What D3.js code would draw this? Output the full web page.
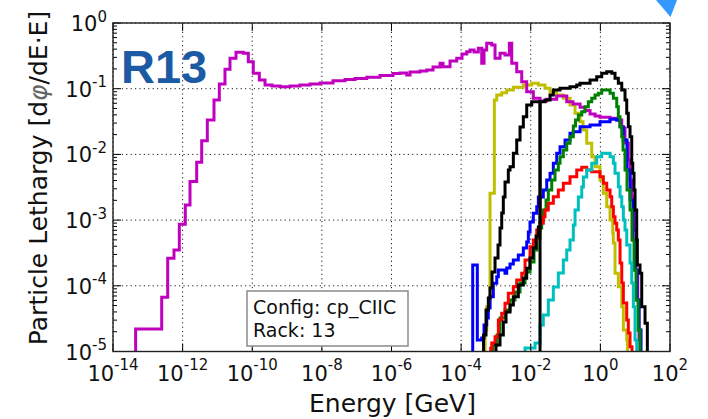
<!DOCTYPE html>
<html><head><meta charset="utf-8">
<script src="https://cdn.jsdelivr.net/npm/d3@7"></script>
<style>html,body{margin:0;padding:0;background:#fff}svg{display:block}</style>
</head><body>
<svg id="chart" width="708" height="419"></svg>
<script>
// ---- data: [log10(Energy/GeV), log10(lethargy)] ; -8 = empty bin ----
const xTickExps = [-14,-12,-10,-8,-6,-4,-2,0,2];
const yTickExps = [-5,-4,-3,-2,-1,0];
const boxLines = ["Config: cp_CIIC","Rack: 13"];
const panelLabel = "R13";

const magenta = [[-13.35,-8],[-13.35,-4.658],[-12.601,-4.175],[-12.429,-3.581],[-12.248,-3.455],[-12.095,-3.064],[-11.923,-2.770],[-11.788,-2.413],[-11.596,-2.120],[-11.452,-1.791],[-11.291,-1.476],[-11.099,-1.172],[-10.946,-0.928],[-10.783,-0.705],[-10.639,-0.537],[-10.467,-0.446],[-10.257,-0.461],[-10.113,-0.589],[-9.970,-0.766],[-9.797,-0.868],[-9.633,-0.944],
[-9.432,-0.959],[-9.203,-0.970],[-8.915,-0.959],[-8.628,-0.944],[-8.341,-0.928],[-8.053,-0.913],[-7.680,-0.878],[-7.335,-0.860],[-7.048,-0.845],[-6.712,-0.826],[-6.330,-0.799],[-5.956,-0.769],[-5.755,-0.761],[-5.563,-0.791],[-5.468,-0.746],[-5.181,-0.731],[-4.988,-0.715],[-4.807,-0.670],[-4.606,-0.613],[-4.520,-0.665],[-4.319,-0.578],[-4.126,-0.537],[-3.974,-0.472],[-3.839,-0.437],[-3.744,-0.411],[-3.629,-0.441],[-3.506,-0.385],[-3.408,-0.613],[-3.342,-0.411],[-3.265,-0.309],[-3.121,-0.335],[-3.026,-0.537],[-2.883,-0.461],[-2.739,-0.487],[-2.615,-0.309],[-2.546,-0.613],[-2.403,-0.741],[-2.259,-0.893],[-2.116,-1.046],[-1.926,-1.146],[-1.733,-1.187],[-1.541,-1.161],[-1.254,-1.111],[-0.966,-1.198],[-0.785,-1.233],[-0.584,-1.283],[-0.441,-1.332],[-0.297,-1.385],[-0.153,-1.416],[-0.010,-1.435],[0.278,-1.451],[0.470,-1.476],[0.614,-1.598],[0.708,-1.826],[0.803,-2.085],[0.852,-2.390],[0.909,-2.648],[0.967,-3.151],[1.024,-3.759],[1.073,-4.216],[1.110,-4.825],[1.139,-8]];

const yellow = [[-3.313,-8],[-3.313,-4.673],[-3.265,-4.318],[-3.170,-2.592],[-3.046,-1.172],[-2.977,-1.096],[-2.834,-1.061],[-2.690,-1.020],[-2.500,-0.979],[-2.213,-0.944],[-1.972,-0.918],[-1.782,-0.944],[-1.590,-0.994],[-1.446,-1.046],[-1.254,-1.096],[-1.064,-1.146],[-0.872,-1.248],[-0.728,-1.374],[-0.584,-1.502],[-0.498,-1.629],[-0.392,-1.831],[-0.248,-2.035],[-0.153,-2.187],[-0.010,-2.390],[0.085,-2.592],[0.183,-2.796],[0.278,-2.998],[0.355,-3.201],[0.372,-3.349],[0.421,-3.810],[0.516,-4.014],[0.614,-4.318],[0.660,-4.673],[0.757,-4.825],[0.78,-8]];

const blue = [[-3.667,-8],[-3.667,-3.683],[-3.535,-4.825],[-3.408,-4.795],[-3.342,-4.597],[-3.265,-4.490],[-3.219,-4.338],[-3.170,-4.166],[-3.075,-3.962],[-2.977,-3.862],[-2.931,-3.759],[-2.834,-3.759],[-2.739,-3.810],[-2.690,-3.729],[-2.595,-3.668],[-2.500,-3.607],[-2.357,-3.531],[-2.213,-3.425],[-2.116,-3.333],[-2.069,-3.181],[-2.021,-3.029],[-1.926,-2.897],[-1.828,-2.796],[-1.782,-2.648],[-1.639,-2.542],[-1.541,-2.390],[-1.446,-2.288],[-1.351,-2.135],[-1.254,-1.983],[-1.159,-1.883],[-1.015,-1.781],[-0.872,-1.679],[-0.777,-1.654],[-0.584,-1.578],[-0.297,-1.553],[-0.010,-1.502],[0.278,-1.466],[0.470,-1.476],[0.565,-1.578],[0.660,-1.781],[0.766,-2.237],[0.852,-2.694],[0.938,-3.303],[0.996,-3.759],[1.053,-4.216],[1.110,-4.673],[1.168,-8]];

const green = [[-3.084,-8],[-3.084,-4.9],[-2.969,-4.749],[-2.883,-4.490],[-2.739,-4.368],[-2.595,-4.216],[-2.452,-4.094],[-2.308,-3.957],[-2.164,-3.790],[-2.021,-3.638],[-1.906,-3.455],[-1.820,-3.272],[-1.733,-3.120],[-1.685,-2.998],[-1.639,-2.846],[-1.561,-2.694],[-1.495,-2.542],[-1.397,-2.390],[-1.303,-2.237],[-1.208,-2.135],[-1.159,-2.035],[-1.064,-1.933],[-0.966,-1.831],[-0.872,-1.731],[-0.777,-1.568],[-0.714,-1.476],[-0.633,-1.400],[-0.535,-1.350],[-0.441,-1.274],[-0.346,-1.198],[-0.248,-1.146],[-0.153,-1.096],[-0.058,-1.070],[0.039,-1.020],[0.278,-1.070],[0.373,-1.146],[0.470,-1.274],[0.516,-1.426],[0.565,-1.578],[0.614,-1.731],[0.651,-1.933],[0.708,-2.237],[0.766,-2.542],[0.852,-2.846],[0.909,-3.303],[0.967,-3.759],[1.024,-4.216],[1.082,-4.673],[1.139,-8]];

const red = [[-3.15,-8],[-3.15,-4.95],[-3.121,-4.871],[-3.026,-4.775],[-2.931,-4.521],[-2.834,-4.419],[-2.739,-4.266],[-2.644,-4.114],[-2.500,-4.014],[-2.403,-3.912],[-2.259,-3.810],[-2.164,-3.607],[-2.021,-3.405],[-1.926,-3.303],[-1.828,-3.151],[-1.733,-3.049],[-1.639,-2.948],[-1.590,-2.846],[-1.495,-2.744],[-1.351,-2.644],[-1.208,-2.542],[-1.064,-2.440],[-0.872,-2.339],[-0.679,-2.237],[-0.535,-2.196],[-0.392,-2.237],[-0.248,-2.263],[-0.010,-2.339],[0.085,-2.440],[0.183,-2.542],[0.278,-2.644],[0.326,-2.796],[0.373,-2.948],[0.421,-3.049],[0.470,-3.151],[0.516,-3.303],[0.565,-3.653],[0.614,-3.957],[0.660,-4.262],[0.757,-4.521],[0.803,-4.718],[0.852,-4.927],[0.909,-8]];

const cyan = [[-2.164,-8],[-2.164,-4.947],[-1.877,-4.871],[-1.733,-4.597],[-1.639,-4.444],[-1.495,-4.216],[-1.351,-4.018],[-1.208,-3.805],[-1.064,-3.607],[-0.966,-3.455],[-0.872,-3.303],[-0.777,-3.075],[-0.728,-2.846],[-0.633,-2.648],[-0.535,-2.496],[-0.488,-2.344],[-0.392,-2.237],[-0.248,-2.135],[-0.105,-2.035],[0.039,-1.983],[0.278,-2.035],[0.373,-2.135],[0.421,-2.288],[0.516,-2.492],[0.565,-2.644],[0.614,-2.796],[0.660,-2.998],[0.708,-3.151],[0.757,-3.379],[0.852,-3.653],[0.901,-3.957],[0.947,-4.318],[0.996,-4.825],[1.044,-8]];

const blackA = [[-3.356,-8],[-3.356,-4.749],[-3.285,-4.368],[-3.219,-4.186],[-3.170,-4.033],[-3.112,-3.790],[-3.026,-3.577],[-2.940,-3.379],[-2.883,-3.120],[-2.834,-2.892],[-2.788,-2.648],[-2.739,-2.420],[-2.644,-2.237],[-2.595,-2.187],[-2.500,-1.983],[-2.403,-1.781],[-2.308,-1.583],[-2.213,-1.426],[-2.116,-1.248],[-1.972,-1.198],[-1.733,-8]];

const blackB = [[-2.997,-8],[-2.997,-4.901],[-2.883,-4.749],[-2.788,-4.551],[-2.710,-4.399],[-2.595,-4.292],[-2.500,-4.166],[-2.357,-3.988],[-2.213,-3.886],[-2.116,-3.734],[-2.021,-3.577],[-1.934,-3.425],[-1.848,-3.242],[-1.782,-3.105],[-1.733,-1.198],[-1.590,-1.172],[-1.446,-1.096],[-1.351,-1.020],[-1.159,-0.994],[-0.872,-0.970],[-0.679,-0.944],[-0.584,-0.918],[-0.297,-0.868],[-0.105,-0.817],[0.039,-0.766],[0.183,-0.741],[0.326,-0.766],[0.421,-0.842],[0.516,-0.918],[0.614,-1.020],[0.708,-1.172],[0.757,-1.374],[0.803,-1.578],[0.852,-1.731],[0.901,-2.135],[0.930,-2.288],[0.967,-2.542],[0.996,-2.846],[1.044,-3.303],[1.062,-3.683],[1.139,-3.810],[1.188,-4.318],[1.283,-4.571],[1.349,-8]];

const seriesList = [
  {data: yellow, color: "#bfbf00"},
  {data: magenta, color: "#bf00bf"},
  {data: blue, color: "#0000ff"},
  {data: green, color: "#008000"},
  {data: red, color: "#ff0000"},
  {data: cyan, color: "#00bfbf"},
  {data: blackA, color: "#000000"},
  {data: blackB, color: "#000000"}
];

// ---- layout ----
const L = 113, R = 670, T = 23, B = 351.5;
const svg = d3.select("#chart");
const font = "DejaVu Sans, sans-serif";

const x = d3.scaleLog().domain([1e-14, 1e2]).range([L, R]);
const y = d3.scaleLog().domain([1e-5, 1e0]).range([B, T]);

// blue corner triangle
svg.append("path").attr("d", `M656,0 L677,0 L670.5,17 Z`).attr("fill", "#3399ff");

svg.append("defs").append("clipPath").attr("id","clip")
  .append("rect").attr("x", L).attr("y", T).attr("width", R-L).attr("height", B-T);

// grid
const grid = svg.append("g").attr("stroke", "#000").attr("stroke-width", 0.9).attr("stroke-dasharray", "1.2,3.2");
xTickExps.forEach(e => {
  const px = x(Math.pow(10, e));
  grid.append("line").attr("x1", px).attr("x2", px).attr("y1", T).attr("y2", B);
});
yTickExps.forEach(e => {
  const py = y(Math.pow(10, e));
  grid.append("line").attr("x1", L).attr("x2", R).attr("y1", py).attr("y2", py);
});

// series
const line = d3.line()
  .x(d => x(Math.pow(10, d[0])))
  .y(d => y(Math.pow(10, d[1])))
  .curve(d3.curveStepAfter);
const plot = svg.append("g").attr("clip-path", "url(#clip)");
seriesList.forEach(s => {
  plot.append("path").attr("d", line(s.data)).attr("fill", "none")
    .attr("stroke", s.color).attr("stroke-width", 3).attr("stroke-linejoin", "miter");
});

// ticks
const ticks = svg.append("g").attr("stroke", "#000").attr("stroke-width", 1);
yTickExps.forEach(e => {
  const py = y(Math.pow(10, e));
  ticks.append("line").attr("x1", L).attr("x2", L+8).attr("y1", py).attr("y2", py);
  ticks.append("line").attr("x1", R).attr("x2", R-8).attr("y1", py).attr("y2", py);
  if (e < 0) for (let m = 2; m <= 9; m++) {
    const pm = y(m * Math.pow(10, e));
    ticks.append("line").attr("x1", L).attr("x2", L+4).attr("y1", pm).attr("y2", pm);
    ticks.append("line").attr("x1", R).attr("x2", R-4).attr("y1", pm).attr("y2", pm);
  }
});
xTickExps.forEach(e => {
  const px = x(Math.pow(10, e));
  ticks.append("line").attr("x1", px).attr("x2", px).attr("y1", B).attr("y2", B-8);
  ticks.append("line").attr("x1", px).attr("x2", px).attr("y1", T).attr("y2", T+8);
});

// frame
svg.append("rect").attr("x", L).attr("y", T).attr("width", R-L).attr("height", B-T)
  .attr("fill", "none").attr("stroke", "#222").attr("stroke-width", 1.4);

// tick labels
yTickExps.forEach(e => {
  const py = y(Math.pow(10, e));
  const t = svg.append("text").attr("x", 107).attr("y", py + 8).attr("text-anchor", "end")
    .attr("font-family", font).attr("font-size", 21).attr("fill", "#111");
  t.append("tspan").text("10");
  t.append("tspan").attr("dy", -9.5).attr("font-size", 15).text(String(e));
});
xTickExps.forEach(e => {
  const px = x(Math.pow(10, e));
  const t = svg.append("text").attr("x", px).attr("y", 380.5).attr("text-anchor", "middle")
    .attr("font-family", font).attr("font-size", 21).attr("fill", "#111");
  t.append("tspan").text("10");
  t.append("tspan").attr("dy", -10.5).attr("font-size", 15).text(String(e));
});

// axis titles
svg.append("text").attr("x", (L+R)/2 + 1).attr("y", 411.5).attr("text-anchor", "middle")
  .attr("font-family", font).attr("font-size", 25).attr("fill", "#111").text("Energy [GeV]");
const yt = svg.append("text").attr("transform", "translate(47,178) rotate(-90)")
  .attr("text-anchor", "middle").attr("font-family", font).attr("font-size", 25).attr("fill", "#111");
yt.append("tspan").text("Particle Lethargy [d");
yt.append("tspan").attr("font-style", "italic").attr("fill", "#666").text("φ");
yt.append("tspan").text("/dE·E]");

// panel label
svg.append("text").attr("x", 121).attr("y", 82.5).attr("font-family", "Liberation Sans, Arial, sans-serif")
  .attr("font-weight", "bold").attr("font-size", 47).attr("fill", "#1c5ba3").text(panelLabel);

// text box
svg.append("rect").attr("x", 247).attr("y", 291).attr("width", 161).attr("height", 55)
  .attr("fill", "#fff").attr("stroke", "#8a8a8a").attr("stroke-width", 1.5);
boxLines.forEach((s, i) => {
  svg.append("text").attr("x", 253).attr("y", 313.5 + i*23.4).attr("font-family", font)
    .attr("font-size", 19).attr("fill", "#111").text(s);
});
</script>
</body></html>
